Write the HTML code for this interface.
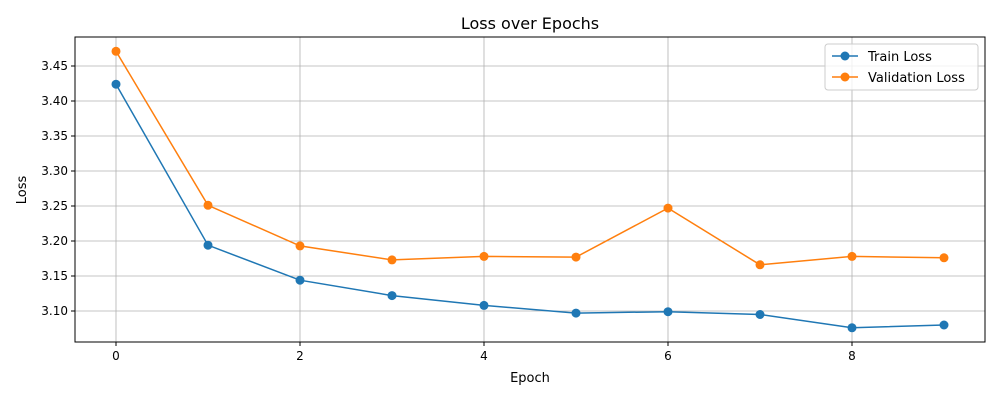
<!DOCTYPE html>
<html><head><meta charset="utf-8"><style>
body{margin:0;background:#fff;font-family:"Liberation Sans","DejaVu Sans",sans-serif;}
svg text{font-family:"DejaVu Sans","Liberation Sans",sans-serif;}
</style></head><body>
<svg id="chart" width="1000" height="400" xmlns="http://www.w3.org/2000/svg">
<rect width="1000" height="400" fill="#fff"/>
<g id="grid"></g><g id="series"></g><g id="axes"></g>
<text x="530" y="29" text-anchor="middle" font-size="16">Loss over Epochs</text>
<text x="530" y="382" text-anchor="middle" font-size="13">Epoch</text>
<text transform="translate(26,190) rotate(-90)" text-anchor="middle" font-size="13">Loss</text>
<g>
<rect x="825" y="44" width="153" height="46" fill="#fff" fill-opacity="0.8" stroke="#ccc" rx="3"/>
<line x1="832" y1="56" x2="858" y2="56" stroke="#1f77b4" stroke-width="1.5"/><circle cx="845" cy="56" r="4.5" fill="#1f77b4"/>
<text x="868" y="61" font-size="13">Train Loss</text>
<line x1="832" y1="77" x2="858" y2="77" stroke="#ff7f0e" stroke-width="1.5"/><circle cx="845" cy="77" r="4.5" fill="#ff7f0e"/>
<text x="868" y="82" font-size="13">Validation Loss</text>
</g>
</svg>
<script>
const epochs=[0,1,2,3,4,5,6,7,8,9];
const trainLoss=[3.424,3.194,3.144,3.122,3.108,3.097,3.099,3.095,3.076,3.080];
const valLoss=[3.471,3.251,3.193,3.173,3.178,3.177,3.247,3.166,3.178,3.176];
const xTicks=[0,2,4,6,8];
const yTicks=[3.10,3.15,3.20,3.25,3.30,3.35,3.40,3.45];
const L=75,R=985,T=37,B=342;
const xs=v=>116+v*92;
const ys=v=>311-(v-3.10)*700;
const NS="http://www.w3.org/2000/svg";
function mk(tag,attrs,parent){const e=document.createElementNS(NS,tag);for(const k in attrs)e.setAttribute(k,attrs[k]);parent.appendChild(e);return e;}
const grid=document.getElementById('grid'),axes=document.getElementById('axes'),ser=document.getElementById('series');
xTicks.forEach(t=>{const x=xs(t);
 const g=mk('line',{x1:x,x2:x,y1:T,y2:B,stroke:'#b0b0b0','stroke-width':0.8},grid);
 
 
 mk('line',{x1:x,x2:x,y1:B,y2:B+4,stroke:'#000'},axes);
 const tx=mk('text',{x:x,y:B+18,'text-anchor':'middle','font-size':12},axes);tx.textContent=t;
 
 });
yTicks.forEach(t=>{const y=ys(t);
 const g=mk('line',{x1:L,x2:R,y1:y,y2:y,stroke:'#b0b0b0','stroke-width':0.8},grid);
 
 
 mk('line',{x1:L-4,x2:L,y1:y,y2:y,stroke:'#000'},axes);
 const tx=mk('text',{x:L-7,y:y+4,'text-anchor':'end','font-size':12},axes);tx.textContent=t.toFixed(2);
 
 });
const fr=mk('rect',{x:L,y:T,width:R-L,height:B-T,fill:'none',stroke:'#000','stroke-width':1},axes);


[[trainLoss,'#1f77b4','train'],[valLoss,'#ff7f0e','validation']].forEach(([d,c,n])=>{
 const pl=mk('polyline',{points:d.map((v,i)=>xs(epochs[i])+','+ys(v)).join(' '),fill:'none',stroke:c,'stroke-width':1.5},ser);
 
 
 d.forEach((v,i)=>{const p=mk('circle',{cx:xs(epochs[i]),cy:ys(v),r:4.5,fill:c},ser);
  
  });
});
</script>
</body></html>
